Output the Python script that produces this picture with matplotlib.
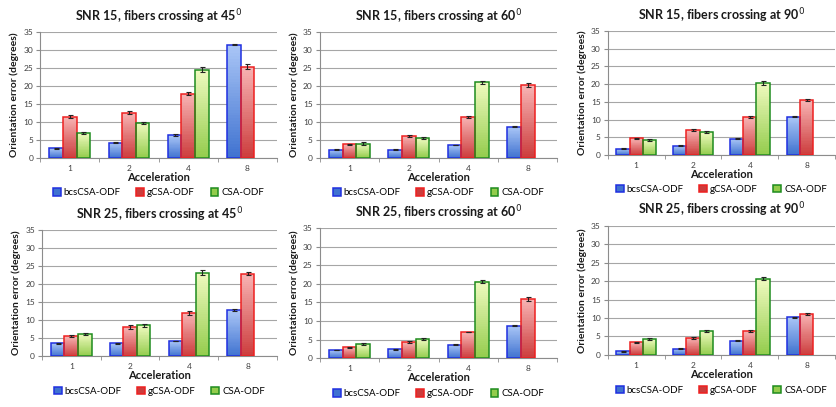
import numpy as np
import matplotlib
matplotlib.use("Agg")
import matplotlib.pyplot as plt
from matplotlib.colors import LinearSegmentedColormap
from matplotlib.patches import Patch

plt.rcParams["font.family"] = ["Lato", "DejaVu Sans"]

accel = ["1", "2", "4", "8"]
methods = ["bcsCSA-ODF", "gCSA-ODF", "CSA-ODF"]
titles = [
    "SNR 15, fibers crossing at 45$^0$",
    "SNR 15, fibers crossing at 60$^0$",
    "SNR 15, fibers crossing at 90$^0$",
    "SNR 25, fibers crossing at 45$^0$",
    "SNR 25, fibers crossing at 60$^0$",
    "SNR 25, fibers crossing at 90$^0$",
]

nan = np.nan
# mean orientation error per panel: rows = bcsCSA, gCSA, CSA
snr15_45 = [[2.7, 4.2, 6.3, 31.5], [11.5, 12.6, 17.9, 25.4], [6.9, 9.8, 24.5, nan]]
snr15_60 = [[2.3, 2.3, 3.6, 8.7], [3.8, 6.1, 11.4, 20.2], [4.0, 5.5, 21.0, nan]]
snr15_90 = [[1.8, 2.6, 4.6, 10.8], [4.7, 7.1, 10.7, 15.6], [4.3, 6.4, 20.3, nan]]
snr25_45 = [[3.6, 3.6, 4.2, 12.8], [5.5, 8.1, 12.0, 22.9], [6.1, 8.5, 23.1, nan]]
snr25_60 = [[2.2, 2.4, 3.6, 8.7], [2.9, 4.3, 7.0, 15.9], [3.8, 5.2, 20.6, nan]]
snr25_90 = [[1.0, 1.7, 3.9, 10.2], [3.4, 4.6, 6.5, 11.1], [4.3, 6.5, 20.6, nan]]

# standard errors
err15_45 = [[0.1, 0.1, 0.3, 0.2], [0.4, 0.4, 0.5, 0.6], [0.3, 0.3, 0.7, nan]]
err15_60 = [[0.1, 0.1, 0.1, 0.1], [0.2, 0.3, 0.3, 0.6], [0.3, 0.3, 0.4, nan]]
err15_90 = [[0.1, 0.1, 0.1, 0.1], [0.2, 0.2, 0.2, 0.3], [0.3, 0.3, 0.5, nan]]
err25_45 = [[0.1, 0.1, 0.1, 0.2], [0.3, 0.5, 0.5, 0.5], [0.3, 0.3, 0.7, nan]]
err25_60 = [[0.1, 0.1, 0.1, 0.1], [0.1, 0.2, 0.1, 0.6], [0.2, 0.3, 0.4, nan]]
err25_90 = [[0.1, 0.1, 0.1, 0.1], [0.2, 0.2, 0.2, 0.4], [0.3, 0.3, 0.4, nan]]

panels = [snr15_45, snr15_60, snr15_90, snr25_45, snr25_60, snr25_90]
errors = [err15_45, err15_60, err15_90, err25_45, err25_60, err25_90]

edge = ["#1f2fe0", "#ee2020", "#1e8c1e"]
# (top, bottom) colours of each bar's vertical gradient
grad = [("#aac6f6", "#3f72d0"), ("#f8b4b4", "#cc3c3c"), ("#effabf", "#93cc4c")]
cmaps = [LinearSegmentedColormap.from_list(m, [bot, top]) for m, (top, bot) in zip(methods, grad)]

# axes rectangles in figure fraction (left, bottom, width, height)
rects = [
    (0.048, 0.612, 0.283, 0.309),
    (0.382, 0.612, 0.284, 0.309),
    (0.726, 0.619, 0.272, 0.305),
    (0.050, 0.125, 0.281, 0.310),
    (0.382, 0.120, 0.284, 0.320),
    (0.726, 0.128, 0.272, 0.317),
]

fig = plt.figure(figsize=(8.37, 4.07), dpi=100)
fig.patch.set_facecolor("white")

x = np.arange(len(accel))
w = 0.23
nsteps = 40
frac = np.arange(nsteps) / nsteps   # 0 at the foot of a bar, ->1 at its top

for k, (vals, errs, title, rect) in enumerate(zip(panels, errors, titles, rects)):
    ax = fig.add_axes(rect)
    ax.yaxis.grid(True, color="#a6a6a6", lw=0.8)
    ax.set_axisbelow(True)
    for s in ["top", "right"]:
        ax.spines[s].set_visible(False)
    for s in ["left", "bottom"]:
        ax.spines[s].set_color("#8c8c8c")
        ax.spines[s].set_linewidth(0.8)

    for j in range(3):
        pos = x + (j - 1) * w
        h = np.array(vals[j], dtype=float)
        e = np.array(errs[j], dtype=float)
        # gradient fill: stack thin slices, dark at the base, light at the top
        for p, hv in zip(pos, h):
            if np.isnan(hv):
                continue
            ax.bar(np.full(nsteps, p), np.full(nsteps, hv / nsteps * 1.02), w,
                   bottom=frac * hv, color=cmaps[j](frac + 0.5 / nsteps),
                   linewidth=0, zorder=2)
        ax.bar(pos, h, w, facecolor="none", edgecolor=edge[j], lw=1.1, zorder=3)
        ax.errorbar(pos, h, yerr=e, fmt="none", ecolor="#222222", elinewidth=0.8,
                    capsize=1.8, capthick=0.8, zorder=4)

    ax.set_xlim(-0.5, 3.5)
    ax.set_ylim(0, 35)
    ax.set_yticks(range(0, 36, 5))
    ax.set_xticks(x)
    ax.set_xticklabels(accel)
    ax.set_xticks(np.arange(-0.5, 4, 1), minor=True)
    ax.tick_params(axis="x", which="major", length=0, labelsize=6, pad=5, colors="#404040")
    ax.tick_params(axis="x", which="minor", length=3, color="#8c8c8c")
    ax.tick_params(axis="y", length=3, labelsize=6, colors="#404040", color="#8c8c8c", pad=2)

    ax.set_title(title, fontsize=9, fontweight="bold", pad=8, color="#1a1a1a")
    ax.set_xlabel("Acceleration", fontsize=8, fontweight="bold", labelpad=0, color="#1a1a1a")
    ax.set_ylabel("Orientation error (degrees)", fontsize=7.5, fontweight="bold",
                  labelpad=3, color="#1a1a1a")

    handles = [Patch(facecolor=grad[j][1], edgecolor=edge[j], lw=1.1, label=methods[j])
               for j in range(3)]
    ax.legend(handles=handles, loc="upper center", bbox_to_anchor=(0.5, -0.21), ncol=3,
              frameon=False, fontsize=7, handlelength=0.8, handleheight=0.8,
              handletextpad=0.3, columnspacing=1.6, borderaxespad=0)

fig.savefig("out.png", dpi=100)
